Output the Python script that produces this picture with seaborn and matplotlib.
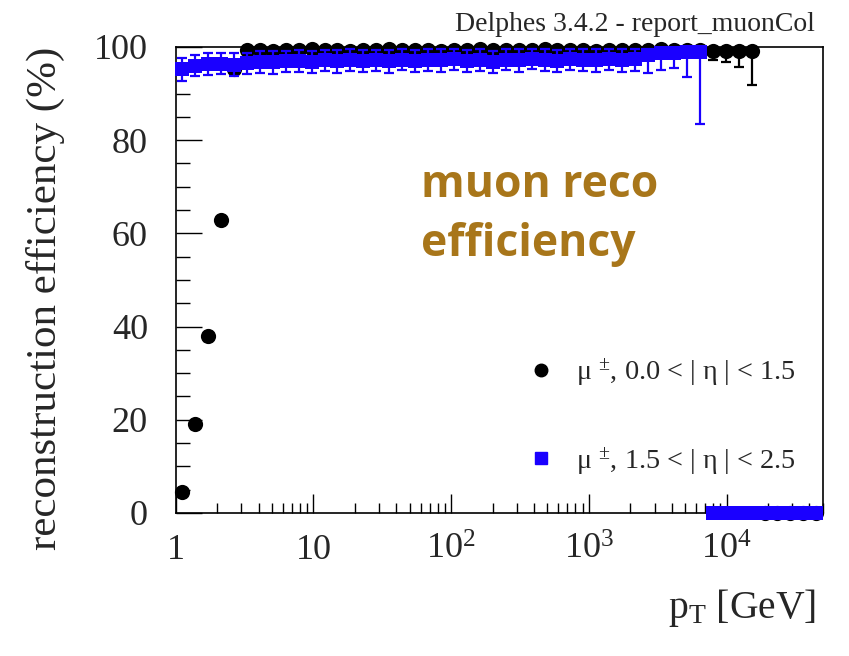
import numpy as np
import pandas as pd
import matplotlib
matplotlib.use("Agg")
import matplotlib.pyplot as plt
import seaborn as sns
from matplotlib.lines import Line2D
from matplotlib.ticker import FixedLocator, LogLocator, MultipleLocator, NullFormatter

# ---- binning (50 logarithmic pT bins between 1 GeV and 50 TeV) ----
pt_edges = np.logspace(0.0, np.log10(5.0e4), 51)
pt_centers = np.sqrt(pt_edges[:-1] * pt_edges[1:])

# ---- efficiency, central region 0.0 < |eta| < 1.5 (percent) ----
eff_central = [
    4.5, 19.0, 38.0, 62.8, 95.2,
    99.3, 99.4, 99.2, 99.4, 99.3, 99.5, 99.3, 99.4, 99.2, 99.4,
    99.3, 99.5, 99.4, 99.3, 99.4, 99.2, 99.4, 99.3, 99.5, 99.4,
    99.3, 99.4, 99.3, 99.5, 99.4, 99.3, 99.4, 99.2, 99.4, 99.3,
    99.4, 99.3, 99.5, 99.4, 99.3, 99.4,
    99.2, 99.2, 99.1, 99.2,
    0.0, 0.0, 0.0, 0.0, 0.0,
]
err_lo_central = [
    0.9, 1.0, 1.0, 1.0, 1.2,
    0.6, 0.5, 0.6, 0.5, 0.6, 0.5, 0.6, 0.5, 0.6, 0.5,
    0.6, 0.5, 0.6, 0.5, 0.6, 0.5, 0.6, 0.5, 0.6, 0.5,
    0.6, 0.5, 0.6, 0.5, 0.6, 0.5, 0.6, 0.5, 0.7, 0.6,
    0.7, 0.8, 0.7, 0.8, 0.9, 1.2,
    2.0, 2.5, 3.3, 7.4,
    0.0, 0.0, 0.0, 0.0, 0.0,
]

# ---- efficiency, forward region 1.5 < |eta| < 2.5 (percent) ----
eff_forward = [
    95.2, 96.0, 96.3, 96.4, 96.2, 96.5, 96.8, 96.7, 96.9, 97.0,
    96.8, 97.1, 96.9, 97.2, 97.0, 97.1, 96.9, 97.3, 97.0, 97.2,
    97.1, 97.4, 97.0, 97.2, 96.8, 97.3, 97.1, 97.5, 97.2, 97.0,
    97.4, 97.3, 97.1, 97.4, 97.2, 97.5, 98.3, 98.6, 98.8, 98.9,
    99.0,
    0.0, 0.0, 0.0, 0.0, 0.0, 0.0, 0.0, 0.0, 0.0,
]
err_lo_forward = [
    2.4, 2.3, 2.3, 2.3, 2.4, 2.3, 2.3, 2.4, 2.3, 2.3,
    2.4, 2.3, 2.4, 2.3, 2.4, 2.3, 2.4, 2.3, 2.4, 2.3,
    2.4, 2.3, 2.4, 2.3, 2.4, 2.3, 2.4, 2.3, 2.4, 2.4,
    2.3, 2.4, 2.5, 2.4, 2.6, 2.7, 3.9, 3.6, 3.3, 5.4,
    15.6,
    0.0, 0.0, 0.0, 0.0, 0.0, 0.0, 0.0, 0.0, 0.0,
]

x_tick_values = [1, 10, 100, 1000, 10000]
x_tick_labels = ["1", "10", r"$10^{2}$", r"$10^{3}$", r"$10^{4}$"]
y_tick_values = [0, 20, 40, 60, 80, 100]

legend_labels = [
    r"μ $^{\pm}$, 0.0 < | η | < 1.5",
    r"μ $^{\pm}$, 1.5 < | η | < 2.5",
]
title_text = "Delphes 3.4.2 - report_muonCol"
note_text = "muon reco\nefficiency"

# ---- style ----
sns.set_theme(style="white")
plt.rcParams["font.family"] = ["Liberation Serif", "DejaVu Serif"]
plt.rcParams["mathtext.fontset"] = "custom"
plt.rcParams["mathtext.rm"] = "Liberation Serif"
plt.rcParams["mathtext.it"] = "Liberation Serif:italic"
plt.rcParams["mathtext.bf"] = "Liberation Serif:bold"

fig = plt.figure(figsize=(8.49, 6.56), dpi=100)
ax = fig.add_axes([0.2070, 0.2180, 0.7621, 0.7104])

df_c = pd.DataFrame({"pt": pt_centers, "eff": eff_central, "lo": err_lo_central})
df_c["hi"] = np.minimum(0.5, 100.0 - df_c["eff"])
df_c.loc[df_c["eff"] == 0, "hi"] = 0.0
df_f = pd.DataFrame({"pt": pt_centers, "eff": eff_forward, "lo": err_lo_forward})
df_f["hi"] = np.minimum(df_f["lo"], 99.6 - df_f["eff"]).clip(lower=0.0)
df_f.loc[df_f["eff"] == 0, "hi"] = 0.0

blue = "#1a00ff"

# central region (black circles)
ax.errorbar(df_c["pt"], df_c["eff"], yerr=[df_c["lo"], df_c["hi"]], fmt="none",
            ecolor="black", elinewidth=1.6, capsize=3.5, capthick=1.6,
            zorder=2, clip_on=False)
sns.scatterplot(data=df_c, x="pt", y="eff", ax=ax, color="black", marker="o",
                s=120, linewidth=0, zorder=3, clip_on=False, legend=False)

# forward region (blue squares)
ax.errorbar(df_f["pt"], df_f["eff"], yerr=[df_f["lo"], df_f["hi"]], fmt="none",
            ecolor=blue, elinewidth=1.6, capsize=3.5, capthick=1.6,
            zorder=4, clip_on=False)
sns.scatterplot(data=df_f, x="pt", y="eff", ax=ax, color=blue, marker="s",
                s=115, linewidth=0, zorder=5, clip_on=False, legend=False)

# ---- axes ----
ax.set_xscale("log")
ax.set_xlim(1, 5.0e4)
ax.set_ylim(0, 100)
ax.xaxis.set_major_locator(FixedLocator(x_tick_values))
ax.set_xticklabels(x_tick_labels)
ax.xaxis.set_minor_locator(LogLocator(base=10, subs=np.arange(2, 10)))
ax.xaxis.set_minor_formatter(NullFormatter())
ax.yaxis.set_major_locator(FixedLocator(y_tick_values))
ax.set_yticklabels([str(v) for v in y_tick_values])
ax.yaxis.set_minor_locator(MultipleLocator(5))

ax.tick_params(axis="x", which="major", direction="in", length=14, width=1.0,
               labelsize=26, pad=15, color="black", bottom=True, top=False)
ax.tick_params(axis="x", which="minor", direction="in", length=7, width=1.0,
               color="black", bottom=True, top=False)
ax.tick_params(axis="y", which="major", direction="in", length=19, width=1.0,
               labelsize=26, pad=20, color="black", left=True, right=False)
ax.tick_params(axis="y", which="minor", direction="in", length=10, width=1.0,
               color="black", left=True, right=False)
for sp in ax.spines.values():
    sp.set_color("black")
    sp.set_linewidth(1.2)

ax.set_xlabel(r"p$_{\rm T}$ [GeV]", fontsize=28.5, ha="right")
ax.xaxis.set_label_coords(1 - 7 / 647, -0.158)
ax.set_ylabel("reconstruction efficiency (%)", fontsize=31, loc="top", labelpad=21)

# ---- legend ----
handles = [
    Line2D([], [], linestyle="none", marker="o", markersize=9, color="black"),
    Line2D([], [], linestyle="none", marker="s", markersize=8, color=blue),
]
ax.legend(handles, legend_labels, loc="upper left", bbox_to_anchor=(0.529, 0.36),
          frameon=False, fontsize=20.3, labelspacing=2.0, handlelength=0.8,
          handletextpad=0.85, borderaxespad=0)

# ---- texts ----
fig.text(815 / 849, 1 - 31 / 656, title_text, ha="right", va="baseline", fontsize=20)
fig.text(421 / 849, 1 - 163 / 656, note_text, ha="left", va="top",
         fontsize=32, fontweight="bold", family="Open Sans", color="#a8761a",
         linespacing=1.42)

fig.savefig("out.png", dpi=100)
